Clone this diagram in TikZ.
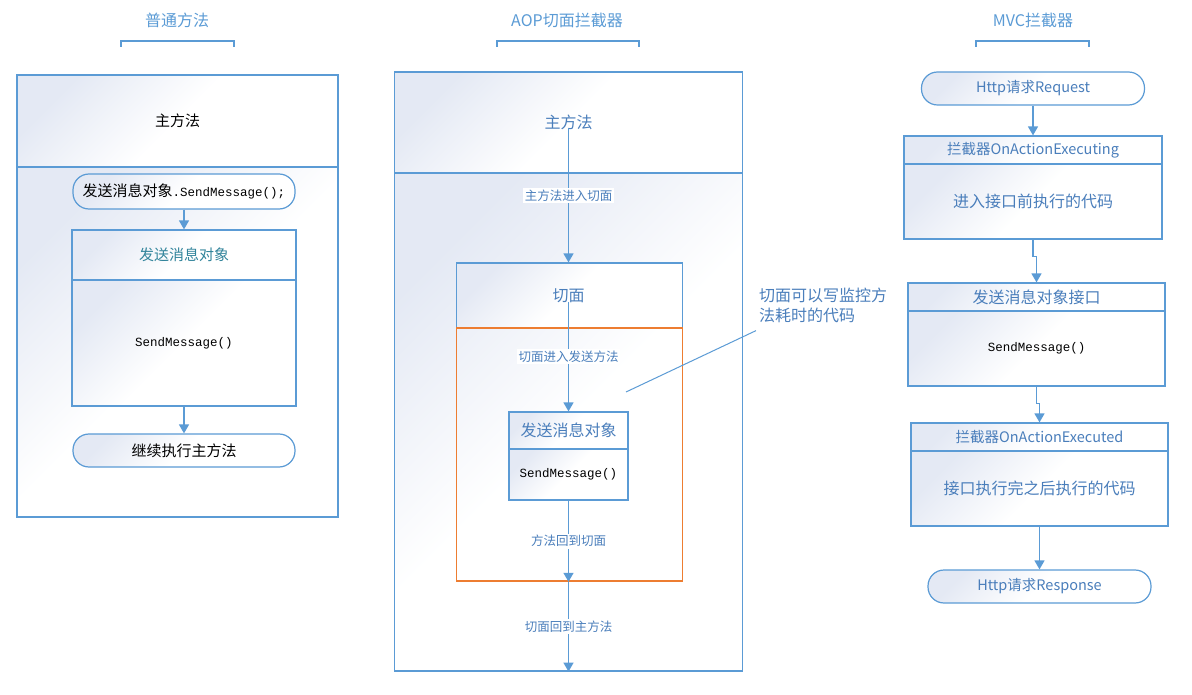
\documentclass[tikz,border=0pt]{standalone}
\usepackage{fontspec}
\setmainfont{Noto Sans CJK SC}
\newfontfamily\codefont{Liberation Mono}
\usetikzlibrary{arrows.meta,positioning}
\definecolor{lnblue}{HTML}{5B9BD5}
\definecolor{txtblue}{HTML}{4A7EBB}
\definecolor{clsteal}{HTML}{31849B}
\definecolor{aspect}{HTML}{ED7D31}
\definecolor{gradA}{HTML}{E4E9F4}

\begin{document}
\begin{tikzpicture}[x=1pt,y=-1pt,
	box/.style={draw=lnblue, line width=1.2pt, inner sep=0pt, left color=gradA, right color=white, middle color=white, shading angle=45, text=txtblue, font=\fontsize{16}{20}\selectfont},
	pill/.style={box, rounded corners=16pt},
	plain/.style={text=black, font=\fontsize{15}{18}\selectfont},
	small/.style={font=\fontsize{14.5}{18}\selectfont},
	txt/.style={inner sep=0pt, font=\fontsize{16}{20}\selectfont, text=txtblue},
	code/.style={font=\codefont\fontsize{12.5}{14}\selectfont, text=black},
	lbl/.style={fill=white, inner sep=1.5pt, font=\fontsize{12.5}{15}\selectfont, text=txtblue},
	hdr/.style={font=\fontsize{16}{20}\selectfont, text=lnblue},
	flow/.style={draw=lnblue, line width=1.4pt, -{Triangle[width=10pt,length=9pt]}},
	brk/.style={draw=lnblue, line width=1.1pt},
	aspbox/.style={draw=aspect, line width=1.6pt, inner sep=0pt}]
	\useasboundingbox (0,0) rectangle (1192,695);
	% headers
	\node[hdr] (hPlain) at (177,20) {普通方法};
	\node[hdr] (hAop) at (567,20) {AOP切面拦截器};
	\node[hdr] (hMvc) at (1033,20) {MVC拦截器};
	\draw[brk] (121,47) |- (234,41) -- (234,47);
	\draw[brk] (497,47) |- (639,41) -- (639,47);
	\draw[brk] (976,47) |- (1089,41) -- (1089,47);

	% plain method
	\node[box, plain, minimum width=321pt, minimum height=92pt] (lMain) at (177.5,121) {主方法};
	\node[box, minimum width=321pt, minimum height=350pt] (lBody) at (177.5,342) {};
	\node[pill, plain, minimum width=222pt, minimum height=35pt] (lCall) at (184,191.5) {发送消息对象{\codefont\fontsize{12.5}{14}\selectfont .SendMessage();}};
	\node[box, plain, text=clsteal, minimum width=224pt, minimum height=50pt] (lObj) at (184,255) {发送消息对象};
	\node[box, code, minimum width=224pt, minimum height=126pt] (lObjBody) at (184,343) {SendMessage()};
	\node[pill, plain, minimum width=222pt, minimum height=33pt] (lGoOn) at (184,450.5) {继续执行主方法};
	\draw[flow] (lCall) -- (lObj);
	\draw[flow] (lObjBody) -- (lGoOn);

	% aop interceptor
	\node[box, minimum width=348pt, minimum height=101pt] (mMain) at (568.5,122.5) {};
	\node[box, minimum width=348pt, minimum height=498pt] (mBody) at (568.5,422) {};
	\node[txt] (mMainTxt) at (568.5,122) {主方法};
	\node[box, minimum width=226pt, minimum height=65pt] (aspTop) at (569.5,295.5) {};
	\node[txt] (aspTxt) at (568.5,296) {切面};
	\node[aspbox, minimum width=226pt, minimum height=253pt] (aspBody) at (569.5,454.5) {};
	\node[box, minimum width=119pt, minimum height=37pt] (mObj) at (568.5,430.5) {发送消息对象};
	\node[box, code, minimum width=119pt, minimum height=51pt] (mObjBody) at (568.5,474.5) {SendMessage()};
	\node[txt, align=left, anchor=west] (note) at (759,305) {切面可以写监控方\\法耗时的代码};
	\coordinate (noteTail) at (626,392);
	\draw[flow] (mMainTxt.base) -- node[lbl] {主方法进入切面} (aspTop.north -| mMainTxt);
	\draw[flow] (aspTxt.base) -- node[lbl] {切面进入发送方法} (mObj);
	\draw[flow] (mObjBody) -- node[lbl] {方法回到切面} (aspBody.south -| mObjBody);
	\draw[flow] (aspBody.south -| mObjBody) -- node[lbl] {切面回到主方法} (mBody.south);
	\draw[lnblue, line width=1pt] ([shift={(-3,8)}]note.south west) -- (noteTail);

	% mvc interceptor
	\node[pill, small, minimum width=223pt, minimum height=33pt] (rReq) at (1033,88.5) {Http请求Request};
	\node[box, small, minimum width=258pt, minimum height=28pt] (rPre) at (1033,150) {拦截器OnActionExecuting};
	\node[box, minimum width=258pt, minimum height=75pt] (rPreBody) at (1033,201.5) {进入接口前执行的代码};
	\node[box, minimum width=257pt, minimum height=28pt] (rSend) at (1036.5,297) {发送消息对象接口};
	\node[box, code, minimum width=257pt, minimum height=75pt] (rSendBody) at (1036.5,348.5) {SendMessage()};
	\node[box, small, minimum width=257pt, minimum height=28pt] (rPost) at (1039.5,437) {拦截器OnActionExecuted};
	\node[box, minimum width=257pt, minimum height=75pt] (rPostBody) at (1039.5,488.5) {接口执行完之后执行的代码};
	\node[pill, small, minimum width=223pt, minimum height=33pt] (rResp) at (1039.5,586.5) {Http请求Response};
	\draw[flow] (rReq) -- (rPre);
	\draw[flow] (rPreBody.south) -- ++(0,17) -| (rSend.north);
	\draw[flow] (rSendBody.south) -- ++(0,17) -| (rPost.north);
	\draw[flow] (rPostBody) -- (rResp);
\end{tikzpicture}
\end{document}
